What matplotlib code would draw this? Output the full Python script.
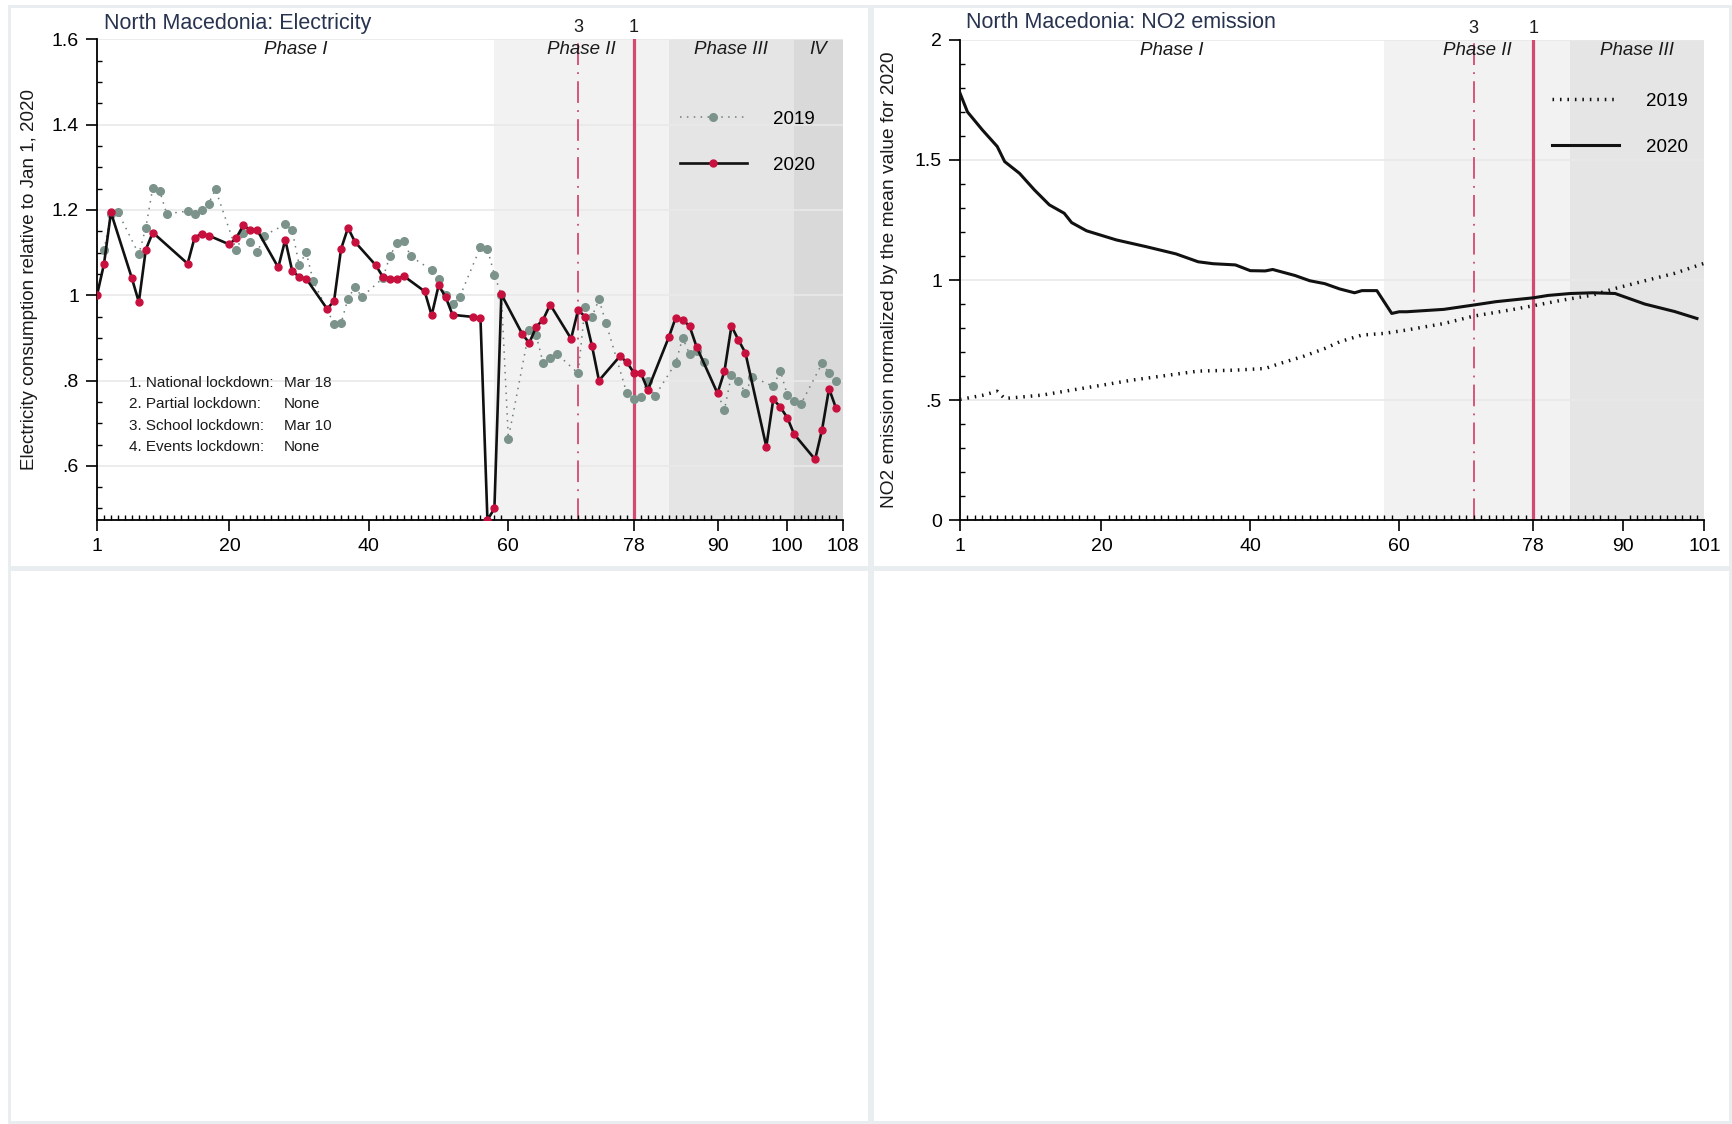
import matplotlib
matplotlib.use("Agg")
import matplotlib.pyplot as plt
import matplotlib.transforms as mtransforms
from matplotlib.patches import Rectangle
from matplotlib.ticker import FixedLocator, MultipleLocator

plt.rcParams["font.family"] = ["Liberation Sans", "DejaVu Sans"]

# ---- Electricity consumption relative to Jan 1, 2020 (day of year) ----
elec20_day = [1, 2, 3, 6, 7, 8, 9, 14, 15, 16, 17, 20, 21, 22, 23, 24, 27, 28, 29, 30,
              31, 34, 35, 36, 37, 38, 41, 42, 43, 44, 45, 48, 49, 50, 51, 52, 55, 56, 57, 58,
              59, 62, 63, 64, 65, 66, 69, 70, 71, 72, 73, 76, 77, 78, 79, 80, 83, 84, 85, 86,
              87, 90, 91, 92, 93, 94, 97, 98, 99, 100, 101, 104, 105, 106, 107]
elec20 = [1.0, 1.073, 1.194, 1.04, 0.984, 1.107, 1.147, 1.074, 1.135, 1.144, 1.14, 1.119,
          1.135, 1.164, 1.152, 1.152, 1.065, 1.13, 1.057, 1.043, 1.039, 0.968, 0.986, 1.108,
          1.158, 1.125, 1.07, 1.043, 1.039, 1.038, 1.045, 1.009, 0.953, 1.023, 0.996, 0.954,
          0.949, 0.947, 0.473, 0.50, 1.002, 0.909, 0.888, 0.926, 0.943, 0.978, 0.898, 0.965,
          0.95, 0.881, 0.80, 0.857, 0.843, 0.818, 0.818, 0.778, 0.901, 0.947, 0.943, 0.927,
          0.879, 0.770, 0.822, 0.928, 0.895, 0.865, 0.645, 0.756, 0.738, 0.713, 0.674, 0.615,
          0.685, 0.781, 0.735]

elec19_day = [2, 3, 4, 7, 8, 9, 10, 11, 14, 15, 16, 17, 18, 21, 22, 23, 24, 25, 28, 29,
              30, 31, 32, 35, 36, 37, 38, 39, 42, 43, 44, 45, 46, 49, 50, 51, 52, 53, 56, 57,
              58, 59, 60, 63, 64, 65, 66, 67, 70, 71, 72, 73, 74, 77, 78, 79, 80, 81, 84, 85,
              86, 87, 88, 91, 92, 93, 94, 95, 98, 99, 100, 101, 102, 105, 106, 107]
elec19 = [1.105, 1.19, 1.195, 1.096, 1.158, 1.252, 1.244, 1.191, 1.197, 1.191, 1.2, 1.215,
          1.248, 1.105, 1.146, 1.125, 1.101, 1.14, 1.166, 1.152, 1.07, 1.101, 1.034, 0.932,
          0.934, 0.992, 1.019, 0.996, 1.04, 1.091, 1.122, 1.127, 1.091, 1.059, 1.038, 1.0,
          0.979, 0.995, 1.113, 1.108, 1.048, 1.0, 0.664, 0.918, 0.906, 0.84, 0.852, 0.862,
          0.817, 0.973, 0.95, 0.99, 0.935, 0.77, 0.756, 0.762, 0.80, 0.763, 0.841, 0.90,
          0.862, 0.87, 0.844, 0.732, 0.813, 0.80, 0.771, 0.809, 0.786, 0.823, 0.767, 0.752,
          0.746, 0.84, 0.818, 0.80]

# ---- NO2 emission normalized by the 2020 mean ----
no2_20_day = [1, 2, 4, 6, 7, 9, 11, 13, 15, 16, 18, 22, 26, 30, 33, 35, 38, 40, 42, 43,
              46, 48, 50, 52, 54, 55, 57, 59, 60, 61, 66, 70, 73, 78, 80, 83, 86, 89, 91, 93,
              97, 100]
no2_20 = [1.778, 1.70, 1.625, 1.556, 1.493, 1.444, 1.375, 1.313, 1.278, 1.239, 1.205, 1.167,
          1.139, 1.109, 1.076, 1.068, 1.063, 1.039, 1.038, 1.044, 1.019, 0.997, 0.985, 0.963,
          0.947, 0.956, 0.956, 0.861, 0.868, 0.868, 0.878, 0.896, 0.91, 0.926, 0.936, 0.944,
          0.947, 0.944, 0.922, 0.90, 0.869, 0.84]

no2_19_day = [1, 4, 6, 7, 12, 16, 20, 24, 29, 33, 38, 42, 44, 47, 50, 52, 55, 58, 61, 66,
              70, 75, 78, 82, 86, 89, 93, 97, 101]
no2_19 = [0.503, 0.52, 0.537, 0.507, 0.521, 0.542, 0.562, 0.583, 0.604, 0.621, 0.625, 0.632,
          0.653, 0.681, 0.715, 0.743, 0.771, 0.778, 0.792, 0.819, 0.85, 0.876, 0.893, 0.917,
          0.9375, 0.965, 0.997, 1.028, 1.07]

# ---- phases and lockdown dates ----
phase_names = ["Phase I", "Phase II", "Phase III", "IV"]
phase_edges_elec = [1, 58, 83, 101, 108]
phase_edges_no2 = [1, 58, 83, 101]
school_day = 70     # 3. School lockdown: Mar 10
national_day = 78   # 1. National lockdown: Mar 18

elec_xticks = [1, 20, 40, 60, 78, 90, 100, 108]
no2_xticks = [1, 20, 40, 60, 78, 90, 101]
elec_yticks = [0.6, 0.8, 1.0, 1.2, 1.4, 1.6]
elec_yticklabels = [".6", ".8", "1", "1.2", "1.4", "1.6"]
no2_yticks = [0, 0.5, 1.0, 1.5, 2.0]
no2_yticklabels = ["0", ".5", "1", "1.5", "2"]

lockdown_labels = ["1. National lockdown:", "2. Partial lockdown:",
                   "3. School lockdown:", "4. Events lockdown:"]
lockdown_dates = ["Mar 18", "None", "Mar 10", "None"]

PHASE_COLORS = ["white", "#f2f2f2", "#e5e5e5", "#d9d9d9"]
RED = "#c8103e"
GREEN_GRAY = "#7b938a"
LINE_RED = "#d24a70"
NAVY = "#28334f"
TXT = "#1a1a1a"

W, H = 1732, 1124
fig = plt.figure(figsize=(W / 100, H / 100), dpi=100)

# light frames around the four panels
for x0, y0, x1, y1 in [(9, 6, 869, 567), (872, 6, 1730, 567),
                       (9, 569, 869, 1122), (872, 569, 1730, 1122)]:
    fig.add_artist(Rectangle((x0 / W, 1 - y1 / H), (x1 - x0) / W, (y1 - y0) / H,
                             transform=fig.transFigure, fill=False,
                             ec="#e8edf0", lw=2))


def style_axis(ax, edges, xticks, yticks, yticklabels, ylim, yminor):
    ax.set_xlim(edges[0], edges[-1])
    ax.set_ylim(*ylim)
    trans = mtransforms.blended_transform_factory(ax.transData, ax.transAxes)
    for i in range(len(edges) - 1):
        ax.axvspan(edges[i], edges[i + 1], color=PHASE_COLORS[i], lw=0, zorder=0)
        ax.text((edges[i] + edges[i + 1]) / 2, 0.996, phase_names[i], transform=trans,
                ha="center", va="top", fontsize=13.5, style="italic", color=TXT)
    for v in yticks:
        ax.axhline(v, color="#e9e9e9", lw=1.2, zorder=0.6)
    ax.axvline(school_day, color=LINE_RED, lw=1.3, dashes=(12, 4, 1, 4), zorder=1.5)
    ax.axvline(national_day, color=LINE_RED, lw=2.3, zorder=1.5)
    ax.text(school_day, 1.024, "3", transform=trans, ha="center", va="center",
            fontsize=13, color=TXT)
    ax.text(national_day, 1.024, "1", transform=trans, ha="center", va="center",
            fontsize=13, color=TXT)

    ax.xaxis.set_major_locator(FixedLocator(xticks))
    ax.xaxis.set_minor_locator(MultipleLocator(1))
    ax.set_xticklabels([str(t) for t in xticks])
    ax.yaxis.set_major_locator(FixedLocator(yticks))
    ax.yaxis.set_minor_locator(MultipleLocator(yminor))
    ax.set_yticklabels(yticklabels)
    ax.tick_params(which="major", direction="out", length=8, width=1.2, pad=5,
                   labelsize=14, colors="black")
    ax.tick_params(which="minor", direction="in", length=3.5, width=1.0)
    for s in ["top", "right"]:
        ax.spines[s].set_visible(False)
    for s in ["left", "bottom"]:
        ax.spines[s].set_linewidth(1.3)
    ax.set_facecolor("white")


# ---------------- left: electricity ----------------
axL = fig.add_axes([97 / W, 1 - 520 / H, (843 - 97) / W, (520 - 39.3) / H])
style_axis(axL, phase_edges_elec, elec_xticks, elec_yticks, elec_yticklabels,
           (min(elec20), 1.6), 0.05)
axL.plot(elec19_day, elec19, color="#6f7f78", lw=1.1, dashes=(1, 3.5),
         marker="o", ms=5.5, mfc=GREEN_GRAY, mec=GREEN_GRAY, zorder=3, label="2019")
axL.plot(elec20_day, elec20, color="#111111", lw=1.9,
         marker="o", ms=5, mfc=RED, mec=RED, zorder=4, label="2020")
axL.legend(loc="upper left", bbox_to_anchor=(0.781, 0.852), frameon=False,
           fontsize=13.5, handlelength=3.6, handletextpad=1.4, labelspacing=1.55,
           numpoints=1, borderpad=0, borderaxespad=0)
axL.set_ylabel("Electricity consumption relative to Jan 1, 2020", fontsize=13.5,
               color=TXT, labelpad=10)
for i, (lab, dt) in enumerate(zip(lockdown_labels, lockdown_dates)):
    axL.text(0.043, 0.285 - i * 0.0445, lab, transform=axL.transAxes, fontsize=11,
             va="center", ha="left", color=TXT)
    axL.text(0.251, 0.285 - i * 0.0445, dt, transform=axL.transAxes, fontsize=11,
             va="center", ha="left", color=TXT)
fig.text(104 / W, 1 - 23 / H, "North Macedonia: Electricity", fontsize=15.5,
         color=NAVY, ha="left", va="center")

# ---------------- right: NO2 ----------------
axR = fig.add_axes([960 / W, 1 - 520.3 / H, (1704.4 - 960) / W, (520.3 - 39.8) / H])
style_axis(axR, phase_edges_no2, no2_xticks, no2_yticks, no2_yticklabels, (0, 2), 0.1)
axR.plot(no2_19_day, no2_19, color="#111111", lw=2.5, dashes=(0.45, 1.7),
         dash_capstyle="butt", zorder=3, label="2019")
axR.plot(no2_20_day, no2_20, color="#111111", lw=2.2, zorder=4, label="2020")
axR.legend(loc="upper left", bbox_to_anchor=(0.795, 0.89), frameon=False,
           fontsize=13.5, handlelength=3.6, handletextpad=1.4, labelspacing=1.55,
           borderpad=0, borderaxespad=0)
axR.set_ylabel("NO2 emission normalized by the mean value for 2020", fontsize=13.8,
               color=TXT, labelpad=12)
fig.text(966 / W, 1 - 23 / H, "North Macedonia: NO2 emission", fontsize=15.5,
         color=NAVY, ha="left", va="center")

fig.savefig("out.png", dpi=100, facecolor="white")
